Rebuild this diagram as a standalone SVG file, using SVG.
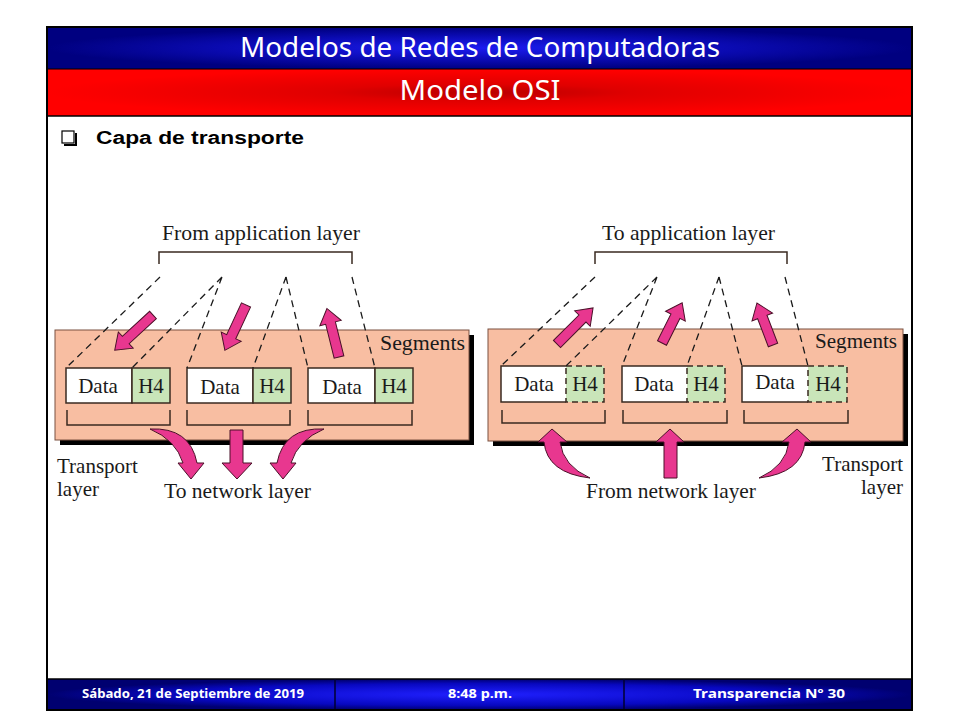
<svg xmlns="http://www.w3.org/2000/svg" width="960" height="720" viewBox="0 0 960 720">
<defs>
<radialGradient id="gBlue" cx="0.5" cy="0.5" r="0.5">
<stop offset="0" stop-color="#1c1cf0"/><stop offset="0.6" stop-color="#0a0ab0"/><stop offset="1" stop-color="#000080"/>
</radialGradient>
<radialGradient id="gRed" cx="0.5" cy="0.5" r="0.5">
<stop offset="0" stop-color="#b80000"/><stop offset="0.35" stop-color="#e00000"/><stop offset="1" stop-color="#ff0000"/>
</radialGradient>
<radialGradient id="gFoot" cx="0.5" cy="0.5" r="0.5">
<stop offset="0" stop-color="#2020ff"/><stop offset="0.7" stop-color="#0808c0"/><stop offset="1" stop-color="#000070"/>
</radialGradient>
<style>
.ttl{font-family:"Noto Sans","DejaVu Sans",sans-serif;fill:#fff;text-anchor:middle}
.ft{font-family:"Noto Sans","DejaVu Sans",sans-serif;fill:#fff;font-weight:bold;text-anchor:middle;font-size:13px}
.lbl{font-family:"Liberation Serif","Times New Roman",serif;fill:#1a1a1a;font-size:21px}
.mid{text-anchor:middle}
.end{text-anchor:end}
.seg{fill:#f8bea2;stroke:#7a5040;stroke-width:1}
.shadow{fill:#000}
.data{fill:#fff;stroke:#3a2a20;stroke-width:1.5}
.h4{fill:#c9e5b9;stroke:#3a2a20;stroke-width:1.5}
.h4d{fill:#c9e5b9;stroke:#3a2a20;stroke-width:1.5;stroke-dasharray:6,4}
.brk{fill:none;stroke:#3a2a20;stroke-width:1.5}
.dash{fill:none;stroke:#1a1a1a;stroke-width:1.3;stroke-dasharray:7,5}
.arr{fill:#e8378f;stroke:#4a1028;stroke-width:1}
</style>
</defs>
<rect width="960" height="720" fill="#fff"/>
<g id="header">
<rect x="47" y="27" width="865" height="42" fill="url(#gBlue)"/>
<rect x="47" y="69" width="865" height="47" fill="url(#gRed)"/>
<line x1="47" y1="69" x2="912" y2="69" stroke="#000" stroke-width="1"/>
<line x1="47" y1="116" x2="912" y2="116" stroke="#000" stroke-width="1.5"/>
<text class="ttl" x="480" y="57" font-size="28" textLength="480" lengthAdjust="spacingAndGlyphs">Modelos de Redes de Computadoras</text>
<text class="ttl" x="480" y="100" font-size="28" textLength="161" lengthAdjust="spacingAndGlyphs">Modelo OSI</text>
</g>
<g id="bullet">
<rect x="62" y="131" width="12" height="12" fill="#fff" stroke="#000" stroke-width="1.2"/>
<path d="M64,145 H76 V133" fill="none" stroke="#000" stroke-width="2"/>
<text x="96" y="144" font-family="Liberation Sans,Arial,sans-serif" font-size="18" font-weight="bold" fill="#000" textLength="208" lengthAdjust="spacingAndGlyphs">Capa de transporte</text>
</g>
<g id="sender">
<rect class="shadow" x="60" y="335" width="414" height="110"/>
<rect class="seg" x="55" y="330" width="414" height="110"/>
<text class="lbl" x="162" y="240" textLength="198" lengthAdjust="spacingAndGlyphs">From application layer</text>
<path class="brk" d="M159,264 V252 H352 V264"/>
<text class="lbl" x="380" y="350" textLength="85" lengthAdjust="spacingAndGlyphs">Segments</text>
<g id="s1"><rect class="data" x="66" y="368" width="66" height="35"/><rect class="h4" x="132" y="368" width="38" height="35"/>
<text class="lbl mid" x="98" y="393">Data</text><text class="lbl mid" x="151" y="393">H4</text></g>
<g id="s2"><rect class="data" x="187" y="368" width="66" height="35"/><rect class="h4" x="253" y="368" width="38" height="35"/>
<text class="lbl mid" x="220" y="394">Data</text><text class="lbl mid" x="272" y="393">H4</text></g>
<g id="s3"><rect class="data" x="308" y="368" width="67" height="35"/><rect class="h4" x="375" y="368" width="38" height="35"/>
<text class="lbl mid" x="342" y="394">Data</text><text class="lbl mid" x="394" y="393">H4</text></g>
<path class="brk" d="M67,410 V425 H170 V410 M187,410 V425 H290 V410 M308,410 V425 H412 V410"/>
<text class="lbl" x="57" y="473">Transport</text>
<text class="lbl" x="57" y="496">layer</text>
<text class="lbl" x="164" y="498" textLength="147" lengthAdjust="spacingAndGlyphs">To network layer</text>
</g>
<g id="receiver">
<rect class="shadow" x="493" y="334" width="415" height="112"/>
<rect class="seg" x="488" y="329" width="415" height="112"/>
<text class="lbl" x="602" y="240" textLength="173" lengthAdjust="spacingAndGlyphs">To application layer</text>
<path class="brk" d="M595,264 V252 H787 V264"/>
<text class="lbl" x="815" y="348" textLength="82" lengthAdjust="spacingAndGlyphs">Segments</text>
<g id="r1"><path class="data" d="M566,366 H501 V402 H566"/><rect class="h4d" x="566" y="366" width="38" height="36"/>
<text class="lbl mid" x="534" y="391">Data</text><text class="lbl mid" x="585" y="391">H4</text></g>
<g id="r2"><path class="data" d="M687,366 H622 V402 H687"/><rect class="h4d" x="687" y="366" width="38" height="36"/>
<text class="lbl mid" x="654" y="391">Data</text><text class="lbl mid" x="706" y="391">H4</text></g>
<g id="r3"><path class="data" d="M808,366 H742 V402 H808"/><rect class="h4d" x="808" y="366" width="39" height="36"/>
<text class="lbl mid" x="775" y="389">Data</text><text class="lbl mid" x="828" y="391">H4</text></g>
<path class="brk" d="M502,410 V423 H605 V410 M623,410 V423 H727 V410 M744,410 V423 H848 V410"/>
<text class="lbl end" x="903" y="471">Transport</text>
<text class="lbl end" x="903" y="494">layer</text>
<text class="lbl" x="586" y="498" textLength="170" lengthAdjust="spacingAndGlyphs">From network layer</text>
</g>
<g id="connectors">
<path class="dash" d="M160,277 L66,368 M222,277 L132,368 M222,277 L187,368 M286,277 L253,368 M286,277 L308,368 M352,277 L375,368"/>
<path class="dash" d="M595,277 L501,366 M657,277 L566,366 M657,277 L622,366 M719,277 L687,366 M719,277 L742,366 M785,277 L808,366"/>
<g id="arrows-left">
<path class="arr" transform="translate(153,315) rotate(137.4)" d="M0,-5 L37,-5 L37,-11 L52,0 L37,11 L37,5 L0,5 Z"/>
<path class="arr" transform="translate(246,305) rotate(115)" d="M0,-5 L35,-5 L35,-11 L50,0 L35,11 L35,5 L0,5 Z"/>
<path class="arr" transform="translate(339,357) rotate(-104)" d="M0,-5 L35,-5 L35,-11 L50,0 L35,11 L35,5 L0,5 Z"/>
<path class="arr" d="M150,429 Q190,427 197,463 L204,463 L191,479 L178,463 L183,463 Q176,440 150,429 Z"/>
<path class="arr" d="M230,430 H243 V463 H252 L237,479 L222,463 H230 Z"/>
<path class="arr" d="M324,429 Q284,427 277,463 L270,463 L283,479 L296,463 L291,463 Q298,440 324,429 Z"/>
</g>
<g id="arrows-right">
<path class="arr" transform="translate(557,344) rotate(-45)" d="M0,-5 L36,-5 L36,-11 L51,0 L36,11 L36,5 L0,5 Z"/>
<path class="arr" transform="translate(662,343) rotate(-63.4)" d="M0,-5 L30,-5 L30,-11 L45,0 L30,11 L30,5 L0,5 Z"/>
<path class="arr" transform="translate(773,345) rotate(-110.9)" d="M0,-5 L30,-5 L30,-11 L45,0 L30,11 L30,5 L0,5 Z"/>
<path class="arr" d="M590,478 Q547,473 544,442 L538,442 L552,429 L567,442 L560,442 Q563,466 590,478 Z"/>
<path class="arr" d="M664,478 V442 H656 L670,429 L684,442 H677 V478 Z"/>
<path class="arr" d="M759,478 Q802,473 805,442 L811,442 L797,429 L782,442 L789,442 Q786,466 759,478 Z"/>
</g>
</g>
<g id="footer">
<rect x="47" y="679" width="865" height="31" fill="url(#gFoot)"/>
<line x1="47" y1="679" x2="912" y2="679" stroke="#000" stroke-width="1.5"/>
<line x1="335" y1="679" x2="335" y2="710" stroke="#000030" stroke-width="1.5"/>
<line x1="624" y1="679" x2="624" y2="710" stroke="#000030" stroke-width="1.5"/>
<text class="ft" x="193" y="698" textLength="222" lengthAdjust="spacingAndGlyphs">Sábado, 21 de Septiembre de 2019</text>
<text class="ft" x="480" y="698" textLength="64" lengthAdjust="spacingAndGlyphs">8:48 p.m.</text>
<text class="ft" x="769" y="698" textLength="152" lengthAdjust="spacingAndGlyphs">Transparencia Nº 30</text>
</g>
<rect id="frame" x="47" y="27" width="865" height="683" fill="none" stroke="#000" stroke-width="2"/>
</svg>
